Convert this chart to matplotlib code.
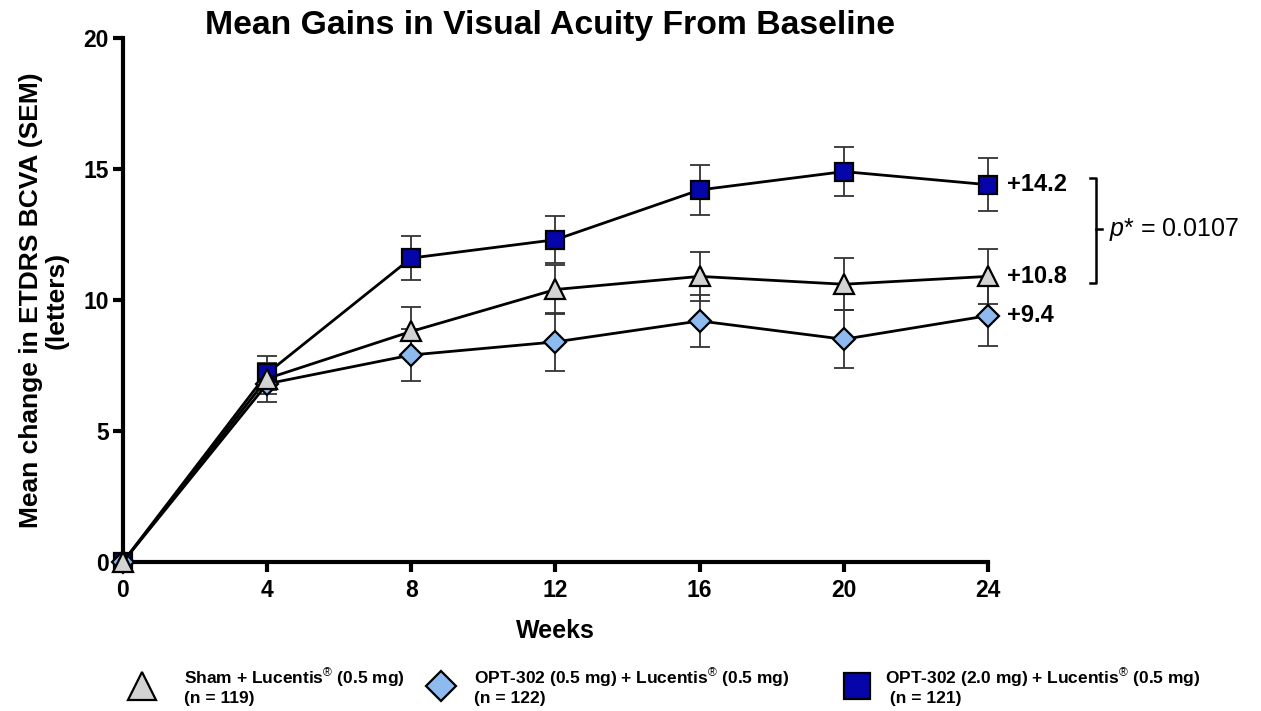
import numpy as np
import matplotlib
matplotlib.use('Agg')
import matplotlib.pyplot as plt
from matplotlib.lines import Line2D
from matplotlib import rcParams

rcParams.update({'font.family': ['Liberation Sans', 'DejaVu Sans'],
                 'mathtext.fontset': 'custom',
                 'mathtext.rm': 'Liberation Sans',
                 'mathtext.it': 'Liberation Sans:italic',
                 'mathtext.bf': 'Liberation Sans:bold'})

# data
weeks = [0, 4, 8, 12, 16, 20, 24]

opt2_mean = [0, 7.2, 11.6, 12.3, 14.2, 14.9, 14.4]
opt2_sem = [0, 0.65, 0.85, 0.9, 0.95, 0.95, 1.0]

opt05_mean = [0, 6.8, 7.9, 8.4, 9.2, 8.5, 9.4]
opt05_sem = [0, 0.7, 1.0, 1.1, 1.0, 1.1, 1.15]

sham_mean = [0, 7.0, 8.8, 10.4, 10.9, 10.6, 10.9]
sham_sem = [0, 0.6, 0.95, 0.95, 0.95, 1.0, 1.05]

end_labels = ['+14.2', '+9.4', '+10.8']
pvalue_text = '$p$* = 0.0107'

legend_labels = ['Sham + Lucentis$^{\u00ae}$ (0.5 mg)\n(n = 119)',
                 'OPT-302 (0.5 mg) + Lucentis$^{\u00ae}$ (0.5 mg)\n(n = 122)',
                 'OPT-302 (2.0 mg) + Lucentis$^{\u00ae}$ (0.5 mg)\n (n = 121)']

fig = plt.figure(figsize=(12.61, 7.11), dpi=100)
ax = fig.add_axes([0.0975, 0.2096, 0.686, 0.737])

styles = [  # series, sem, marker, face, size, legend size
    (opt2_mean, opt2_sem, 's', '#0505AA', 13, 19),
    (opt05_mean, opt05_sem, 'D', '#8DBBF0', 11, 15),
    (sham_mean, sham_sem, '^', '#D3D3D3', 15, 20),
]

for i, (m, s, mk, fc, ms, _) in enumerate(styles):
    ax.errorbar(weeks, m, yerr=s, fmt='none', ecolor='#333333', elinewidth=1.3,
                capsize=7, capthick=1.3, zorder=2 + i, clip_on=False)
    ax.plot(weeks, m, '-', color='black', lw=2, marker=mk, markersize=ms,
            markerfacecolor=fc, markeredgecolor='black', markeredgewidth=1.6,
            zorder=5 + i, clip_on=False)

# end-point labels
for m, lab in zip([opt2_mean, opt05_mean, sham_mean], end_labels):
    ax.annotate(lab, xy=(weeks[-1], m[-1]), xytext=(14, 0), textcoords='offset points',
                fontsize=17, fontweight='bold', va='center', ha='left',
                annotation_clip=False)

# significance bracket
bx0, bx1, bx2 = 26.83, 27.0, 27.15
by_top, by_bot, by_mid = 14.66, 10.65, 12.7
ax.plot([bx0, bx1, bx1, bx0], [by_top, by_top, by_bot, by_bot], color='black', lw=1.8, clip_on=False)
ax.plot([bx1, bx2], [by_mid, by_mid], color='black', lw=1.8, clip_on=False)
ax.text(27.35, by_mid, pvalue_text, fontsize=18, va='center', ha='left')

ax.set_xlim(0, 24)
ax.set_ylim(0, 20)
ax.set_xticks(np.arange(0, 25, 4))
ax.set_yticks([0, 5, 10, 15, 20])
for sp in ['top', 'right']:
    ax.spines[sp].set_visible(False)
for sp in ['left', 'bottom']:
    ax.spines[sp].set_linewidth(3)
ax.tick_params(width=3, length=7, labelsize=16.5, direction='out')
ax.tick_params(axis='x', pad=5)
ax.tick_params(axis='y', pad=3)
for lbl in ax.get_xticklabels() + ax.get_yticklabels():
    lbl.set_fontweight('bold')

ax.set_ylabel('Mean change in ETDRS BCVA (SEM)\n(letters)', fontsize=19, fontweight='bold',
              linespacing=1.1)
ax.yaxis.set_label_coords(-0.063, 0.5)
ax.set_xlabel('Weeks', fontsize=18, fontweight='bold')
ax.xaxis.set_label_coords(0.5, -0.108)

fig.text(0.436, 0.964, 'Mean Gains in Visual Acuity From Baseline', fontsize=24.3,
         fontweight='bold', ha='center', va='center')

# legend along the bottom
leg_font = ['Liberation Sans Narrow', 'Liberation Sans', 'DejaVu Sans']
leg_x = [0.1035, 0.3405, 0.6705]
leg_pad = [1.8, 1.25, 0.95]
for (m, s, mk, fc, ms, lms), lab, x0, pad in zip([styles[2], styles[1], styles[0]],
                                                 legend_labels, leg_x, leg_pad):
    h = Line2D([], [], linestyle='none', marker=mk, markersize=lms,
               markerfacecolor=fc, markeredgecolor='black', markeredgewidth=1.6)
    fig.legend(handles=[h], labels=[lab], loc='center left', bbox_to_anchor=(x0, 0.035),
               frameon=False, borderpad=0, borderaxespad=0, handlelength=1.3,
               handletextpad=pad, prop={'family': leg_font, 'weight': 'bold', 'size': 12.5})

fig.savefig('out.png', dpi=100)
